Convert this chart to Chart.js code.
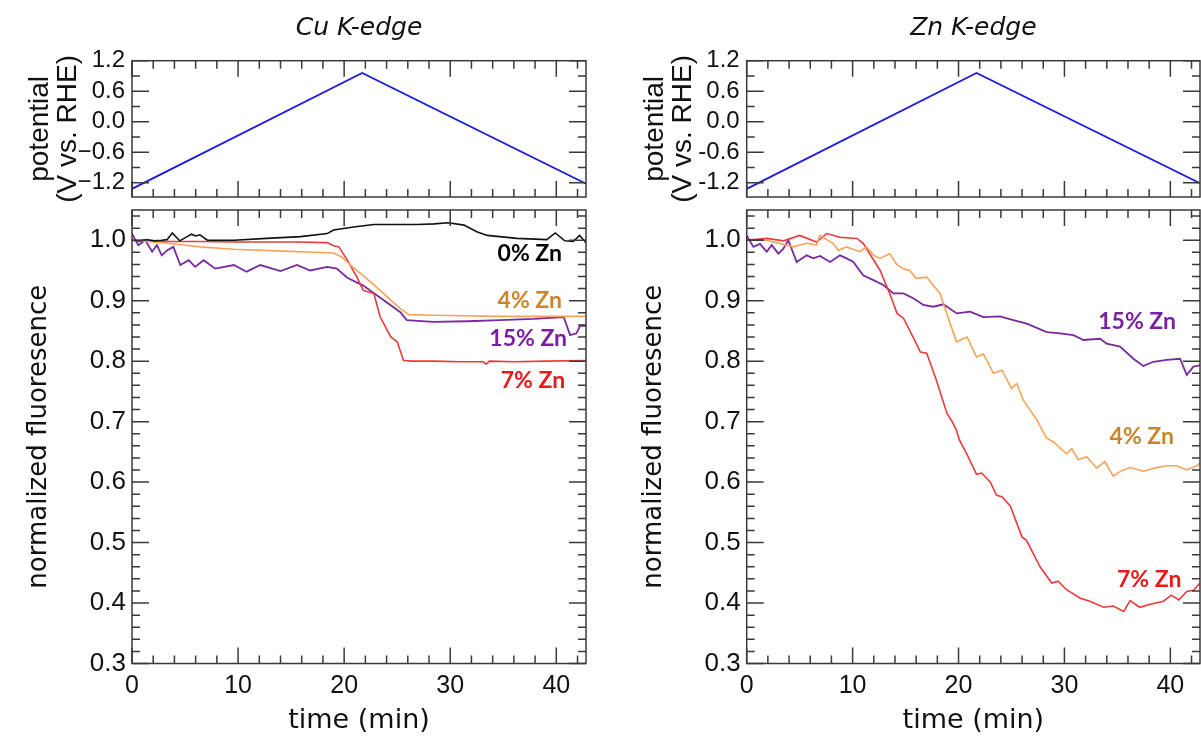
<!DOCTYPE html>
<html>
<head>
<meta charset="utf-8">
<script src="https://cdn.jsdelivr.net/npm/chart.js@4"></script>
<style>
  html, body { margin: 0; padding: 0; background: #fff; }
  body { width: 1201px; height: 737px; position: relative; overflow: hidden; }
  canvas { position: absolute; }
</style>
</head>
<body>
<canvas id="cuPot" width="600" height="205" style="left:0;top:0"></canvas>
<canvas id="cuFluo" width="600" height="532" style="left:0;top:205px"></canvas>
<canvas id="znPot" width="601" height="205" style="left:600px;top:0"></canvas>
<canvas id="znFluo" width="601" height="532" style="left:600px;top:205px"></canvas>
<script>
// potential sweep (V vs. RHE)
const potTime = [0, 21.7, 42.8];
const cuPotential = [-1.32, 0.96, -1.22];
const znPotential = [-1.32, 0.96, -1.21];
const potTicks = [-1.2, -0.6, 0.0, 0.6, 1.2];

const fluoTicks = [0.3, 0.4, 0.5, 0.6, 0.7, 0.8, 0.9, 1.0];
const timeTicks = [0, 10, 20, 30, 40];

// Cu K-edge fluorescence
const cu0Time = [0, 0.7, 1.4, 2.1, 2.8, 3.3, 3.8, 4.5, 5.2, 5.6, 6.0, 6.4, 7.1, 9.6, 12.7, 15.9, 18.4, 19.0, 20.9, 22.8, 26.9, 28.5, 29.8, 31.3, 32.5, 33.5, 36.3, 39.1, 39.9, 40.8, 41.6, 42.2, 42.8];
const cu0 = [1.000, 0.999, 1.001, 0.999, 1.000, 1.001, 1.012, 0.999, 1.006, 1.010, 1.007, 1.009, 1.000, 1.000, 1.003, 1.006, 1.011, 1.017, 1.022, 1.026, 1.026, 1.027, 1.029, 1.025, 1.014, 1.008, 1.003, 1.001, 1.012, 0.999, 0.998, 1.008, 0.996];

const cu4Time = [0, 1.5, 3.3, 6.4, 9.6, 14.3, 19.0, 19.8, 20.6, 22.1, 23.7, 25.3, 26.1, 28.4, 34.7, 42.8];
const cu4 = [1.000, 0.998, 0.995, 0.989, 0.985, 0.982, 0.979, 0.972, 0.959, 0.937, 0.912, 0.887, 0.877, 0.876, 0.874, 0.874];

const cu7Time = [0, 3, 6.4, 10, 12.7, 15.5, 18.4, 19.0, 19.5, 20.3, 21.2, 21.8, 22.8, 23.4, 24.4, 25.0, 25.6, 26.5, 28.4, 31, 33.1, 33.4, 33.7, 36, 39, 42.8];
const cu7 = [1.000, 0.998, 0.998, 0.997, 0.997, 0.997, 0.996, 0.991, 0.989, 0.967, 0.939, 0.917, 0.912, 0.873, 0.840, 0.832, 0.801, 0.800, 0.800, 0.799, 0.799, 0.795, 0.800, 0.799, 0.800, 0.801];

const cu15Time = [0, 0.6, 1.25, 1.9, 2.35, 2.8, 3.3, 3.9, 4.55, 5.35, 5.95, 6.75, 7.85, 9.6, 10.8, 12.1, 14.0, 15.55, 16.8, 18.4, 19.3, 20.3, 21.8, 23.7, 25.3, 25.9, 28.4, 31.6, 34.7, 37.9, 40.7, 41.3, 41.9, 42.25, 42.8];
const cu15 = [1.011, 0.992, 1.0, 0.981, 0.992, 0.975, 0.983, 0.989, 0.959, 0.967, 0.956, 0.967, 0.953, 0.959, 0.948, 0.959, 0.949, 0.959, 0.950, 0.956, 0.953, 0.938, 0.925, 0.901, 0.881, 0.868, 0.865, 0.866, 0.868, 0.870, 0.873, 0.843, 0.846, 0.859, 0.858];

// Zn K-edge fluorescence
const zn0Time = [0, 1.6];
const zn0 = [1.0, 1.0];

const zn4Time = [0, 1.9, 4.4, 5.7, 6.6, 6.9, 8.2, 8.65, 9.4, 10.7, 11.3, 12.0, 12.6, 13.5, 14.2, 14.8, 15.4, 16.0, 17.0, 17.6, 18.25, 19.0, 19.8, 20.8, 21.7, 22.35, 23.3, 24.1, 25.0, 25.5, 26.1, 27.4, 28.3, 29.0, 29.6, 30.2, 30.7, 31.3, 32.1, 33.05, 33.8, 34.6, 35.4, 36.2, 37.45, 38.7, 39.7, 40.6, 41.55, 42.5, 42.8];
const zn4 = [1.0, 1.0, 0.989, 0.995, 0.992, 1.008, 0.994, 0.983, 0.989, 0.981, 0.989, 0.975, 0.970, 0.978, 0.959, 0.953, 0.950, 0.937, 0.939, 0.926, 0.912, 0.873, 0.832, 0.840, 0.807, 0.812, 0.780, 0.785, 0.755, 0.763, 0.736, 0.703, 0.673, 0.666, 0.656, 0.647, 0.655, 0.637, 0.642, 0.623, 0.634, 0.610, 0.619, 0.624, 0.618, 0.624, 0.627, 0.627, 0.620, 0.627, 0.632];

const zn7Time = [0, 1.9, 3.5, 5.0, 6.6, 7.55, 8.8, 10.4, 11.0, 11.6, 12.6, 13.5, 14.2, 14.8, 15.7, 16.4, 17.0, 17.9, 18.9, 19.4, 19.8, 20.1, 20.8, 21.7, 22.2, 23.0, 23.6, 24.1, 24.9, 26.0, 26.4, 27.7, 28.8, 29.4, 30.2, 31.5, 32.4, 33.7, 34.6, 35.6, 36.2, 37.1, 38.1, 39.35, 40.1, 40.8, 41.55, 42.2, 42.8];
const zn7 = [1.0, 1.003, 0.999, 1.008, 0.997, 1.011, 1.005, 1.003, 0.995, 0.978, 0.950, 0.912, 0.879, 0.871, 0.840, 0.815, 0.813, 0.769, 0.714, 0.700, 0.686, 0.669, 0.646, 0.613, 0.615, 0.600, 0.578, 0.576, 0.560, 0.509, 0.504, 0.460, 0.433, 0.436, 0.422, 0.408, 0.403, 0.393, 0.395, 0.386, 0.404, 0.393, 0.398, 0.403, 0.413, 0.405, 0.419, 0.421, 0.433];

const zn15Time = [0, 0.63, 1.26, 1.89, 2.36, 2.99, 3.46, 3.93, 4.72, 5.66, 6.29, 6.92, 7.87, 8.81, 9.44, 10.07, 11.0, 11.96, 12.9, 13.85, 14.79, 15.73, 16.68, 17.62, 18.57, 19.83, 21.09, 22.35, 23.92, 25.18, 26.44, 28.33, 29.59, 30.85, 31.79, 33.36, 33.99, 35.25, 36.51, 37.45, 38.4, 39.66, 40.92, 41.55, 42.18, 42.8];
const zn15 = [1.008, 0.989, 0.994, 0.981, 0.992, 0.978, 0.986, 1.0, 0.964, 0.975, 0.970, 0.974, 0.964, 0.975, 0.970, 0.964, 0.942, 0.934, 0.926, 0.912, 0.912, 0.904, 0.893, 0.890, 0.894, 0.879, 0.882, 0.873, 0.874, 0.868, 0.862, 0.848, 0.846, 0.843, 0.835, 0.837, 0.829, 0.824, 0.804, 0.792, 0.799, 0.802, 0.804, 0.777, 0.791, 0.793];

// in-plot labels
const cuLabels = ['0% Zn', '4% Zn', '15% Zn', '7% Zn'];
const cuLabelTime = [37.5, 37.5, 37.35, 37.8];
const cuLabelValue = [0.978, 0.901, 0.838, 0.768];
const cuLabelColors = ['#000000', '#c8862a', '#7a1fa2', '#e81919'];

const znLabels = ['15% Zn', '4% Zn', '7% Zn'];
const znLabelTime = [36.86, 37.3, 38.0];
const znLabelValue = [0.865, 0.676, 0.439];
const znLabelColors = ['#7a1fa2', '#c8862a', '#e81919'];

const lineColors = { black: '#111111', orange: '#f7a35c', purple: '#7a2a9c', red: '#ec3a3a', blue: '#1c1ce0' };
const ink = '#111';
const frameColor = '#3a3a3a';

function pts(t, v) {
    return t.map((x, i) => ({ x: x, y: v[i] }));
}

function line(t, v, color, width) {
    return { data: pts(t, v), borderColor: color, borderWidth: width || 1.6, pointRadius: 0, tension: 0 };
}

// the layout would otherwise reserve room for half a tick label at each end
function noEdgePadding(s) {
    s.paddingTop = 0; s.paddingBottom = 0; s.paddingLeft = 0; s.paddingRight = 0;
}

// box round the plot with inward ticks on all four sides
const frameTicks = {
    id: 'frameTicks',
    afterDatasetsDraw(chart, args, opts) {
        const { ctx, chartArea: a, scales: { x, y } } = chart;
        const isMajor = (v, step) => Math.abs(v / step - Math.round(v / step)) < 1e-6;
        ctx.save();
        ctx.strokeStyle = frameColor;
        ctx.lineWidth = 1.5;
        ctx.beginPath();
        let first = Math.ceil(x.min / opts.xMinor - 1e-9);
        for (let k = first; k * opts.xMinor <= x.max + 1e-9; k++) {
            const v = k * opts.xMinor;
            const px = x.getPixelForValue(v);
            const len = isMajor(v, opts.xMajor) ? 16 : 8;
            ctx.moveTo(px, a.bottom); ctx.lineTo(px, a.bottom - len);
            ctx.moveTo(px, a.top); ctx.lineTo(px, a.top + len);
        }
        first = Math.ceil(y.min / opts.yMinor - 1e-9);
        for (let k = first; k * opts.yMinor <= y.max + 1e-9; k++) {
            const v = k * opts.yMinor;
            const py = y.getPixelForValue(v);
            const len = isMajor(v, opts.yMajor) ? 17 : 8;
            ctx.moveTo(a.left, py); ctx.lineTo(a.left + len, py);
            ctx.moveTo(a.right, py); ctx.lineTo(a.right - len, py);
        }
        ctx.stroke();
        ctx.strokeRect(a.left, a.top, a.right - a.left, a.bottom - a.top);
        ctx.restore();
    }
};

const seriesLabels = {
    id: 'seriesLabels',
    afterDatasetsDraw(chart, args, opts) {
        if (!opts.text) return;
        const { ctx, scales: { x, y } } = chart;
        ctx.save();
        ctx.font = 'bold 23px Lato';
        ctx.textAlign = 'center';
        ctx.textBaseline = 'middle';
        opts.text.forEach((t, i) => {
            ctx.fillStyle = opts.colors[i];
            ctx.fillText(t, x.getPixelForValue(opts.time[i]), y.getPixelForValue(opts.value[i]));
        });
        ctx.restore();
    }
};

function potChart(id, values, minus, titleText, axisWidth, rightPad, titlePad) {
    return new Chart(document.getElementById(id), {
        type: 'line',
        data: { datasets: [line(potTime, values, lineColors.blue, 1.8)] },
        options: {
            responsive: false,
            animation: false,
            layout: { padding: { left: 0, right: rightPad, top: 0, bottom: 8 } },
            plugins: {
                legend: { display: false },
                tooltip: { enabled: false },
                title: {
                    display: true, text: titleText, fullSize: false, color: ink,
                    font: { family: 'DejaVu Sans', style: 'italic', weight: 'normal', size: 25, lineHeight: 1.2 },
                    padding: { top: 13, bottom: 17.7 }
                },
                frameTicks: { xMinor: 2, xMajor: 10, yMinor: 0.3, yMajor: 0.6 }
            },
            scales: {
                x: { type: 'linear', display: false, min: 0, max: 42.8, afterFit: noEdgePadding },
                y: {
                    min: -1.48, max: 1.2,
                    afterFit: s => { s.width = axisWidth; noEdgePadding(s); },
                    afterBuildTicks: s => { s.ticks = potTicks.map(v => ({ value: v })); },
                    grid: { display: false, drawTicks: false },
                    border: { display: false },
                    ticks: {
                        padding: 7, color: ink,
                        font: { family: 'Liberation Sans', size: 24 },
                        callback: v => (v < -1e-9 ? minus : '') + Math.abs(v).toFixed(1)
                    },
                    title: {
                        display: true, text: ['potential', '(V vs. RHE)'], color: ink,
                        font: { family: 'Liberation Sans', size: 28, lineHeight: 1.0 },
                        padding: { top: titlePad, bottom: 0 }
                    }
                }
            }
        },
        plugins: [frameTicks]
    });
}

function fluoChart(id, datasets, labels, axisWidth, rightPad, titlePad) {
    return new Chart(document.getElementById(id), {
        type: 'line',
        data: { datasets: datasets },
        options: {
            responsive: false,
            animation: false,
            layout: { padding: { left: 0, right: rightPad, top: 5, bottom: 0 } },
            plugins: {
                legend: { display: false },
                tooltip: { enabled: false },
                frameTicks: { xMinor: 2, xMajor: 10, yMinor: 0.02, yMajor: 0.1 },
                seriesLabels: labels
            },
            scales: {
                x: {
                    type: 'linear', min: 0, max: 42.8,
                    afterFit: s => { s.height = 73.5; noEdgePadding(s); },
                    afterBuildTicks: s => { s.ticks = timeTicks.map(v => ({ value: v })); },
                    grid: { display: false, drawTicks: false },
                    border: { display: false },
                    ticks: {
                        padding: 8, color: ink, maxRotation: 0, autoSkip: false,
                        font: { family: 'Liberation Sans', size: 25 },
                        callback: v => String(v)
                    },
                    title: {
                        display: true, text: 'time (min)', color: ink,
                        font: { family: 'DejaVu Sans', size: 27 },
                        padding: { top: 0, bottom: 0 }
                    }
                },
                y: {
                    min: 0.3, max: 1.05,
                    afterFit: s => { s.width = axisWidth; noEdgePadding(s); },
                    afterBuildTicks: s => { s.ticks = fluoTicks.map(v => ({ value: v })); },
                    grid: { display: false, drawTicks: false },
                    border: { display: false },
                    ticks: {
                        padding: 6, color: ink,
                        font: { family: 'Liberation Sans', size: 26 },
                        callback: v => v.toFixed(1)
                    },
                    title: {
                        display: true, text: 'normalized fluoresence', color: ink,
                        font: { family: 'DejaVu Sans', size: 26 },
                        padding: { top: titlePad, bottom: 0 }
                    }
                }
            }
        },
        plugins: [frameTicks, seriesLabels]
    });
}

potChart('cuPot', cuPotential, '\u2212', 'Cu K-edge', 132, 14, 26);
potChart('znPot', znPotential, '-', 'Zn K-edge', 146.7, 1, 41);

fluoChart('cuFluo', [
    line(cu0Time, cu0, lineColors.black),
    line(cu4Time, cu4, lineColors.orange),
    line(cu7Time, cu7, lineColors.red),
    line(cu15Time, cu15, lineColors.purple, 1.8)
], { text: cuLabels, time: cuLabelTime, value: cuLabelValue, colors: cuLabelColors }, 132, 14, 24);

fluoChart('znFluo', [
    line(zn0Time, zn0, lineColors.black),
    line(zn4Time, zn4, lineColors.orange),
    line(zn7Time, zn7, lineColors.red),
    line(zn15Time, zn15, lineColors.purple, 1.8)
], { text: znLabels, time: znLabelTime, value: znLabelValue, colors: znLabelColors }, 146.7, 1, 39);
</script>
</body>
</html>
